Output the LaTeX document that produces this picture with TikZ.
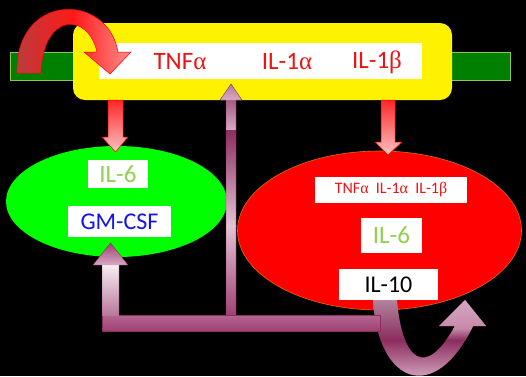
\documentclass[tikz,border=0pt]{standalone}
\usepackage{fontspec}
\setmainfont{Carlito}
\newfontfamily\grk{Liberation Serif}
\usetikzlibrary{shapes.geometric,calc}
\definecolor{barGreen}{RGB}{0,128,0}
\definecolor{barEdge}{RGB}{140,200,80}
\definecolor{lime}{RGB}{0,255,0}
\definecolor{redEll}{RGB}{255,0,0}
\definecolor{redEdge}{RGB}{220,110,0}
\definecolor{txtRed}{RGB}{235,20,20}
\definecolor{txtGreen}{RGB}{146,208,80}
\definecolor{txtBlue}{RGB}{20,20,235}
\definecolor{mauve}{RGB}{160,64,115}
\definecolor{mauveDark}{RGB}{140,45,95}
\definecolor{mauveMid}{RGB}{185,120,155}
\definecolor{mauveLight}{RGB}{228,195,212}
\definecolor{mauveGray}{RGB}{180,140,162}
\definecolor{mauvePink}{RGB}{215,170,195}
\definecolor{pinkLight}{RGB}{255,195,195}
\definecolor{redDark}{RGB}{185,60,60}
\tikzset{
  wbox/.style={fill=white, draw=none, inner sep=0pt, rectangle},
  fz/.style={font=\fontsize{#1}{#1}\selectfont},
  medge/.style={draw=mauveDark, line width=0.4pt},
}
\begin{document}
\begin{tikzpicture}[x=1pt,y=-1pt]
\fill[black] (0,0) rectangle (526,376);
\useasboundingbox (0,0) rectangle (526,376);
% green bar and yellow box
\node[rectangle, fill=barGreen, draw=barEdge, line width=0.8pt, minimum width=500pt, minimum height=28pt, inner sep=0pt] (bar) at (260,66) {};
\node[rectangle, fill=yellow, rounded corners=12pt, minimum width=379pt, minimum height=77pt, inner sep=0pt] (ybox) at (262.5,61.5) {};
\node[wbox, minimum width=323pt, minimum height=36pt] (wtop) at (260.5,61) {};
\node[fz=25, text=txtRed] (tnf) at (180,62) {TNF{\grk α}};
\node[fz=25, text=txtRed] (ila) at (287,62) {IL-1{\grk α}};
\node[fz=25, text=txtRed] (ilb) at (377,62) {IL-1{\grk β}};
% ellipses
\node[ellipse, fill=lime, minimum width=221pt, minimum height=111pt, inner sep=0pt] (gell) at (116.5,201.5) {};
\node[ellipse, fill=redEll, draw=redEdge, line width=0.6pt, minimum width=284pt, minimum height=159pt, inner sep=0pt] (rell) at (379.5,230.5) {};
% boxes in green ellipse
\node[wbox, minimum width=60pt, minimum height=28pt, fz=25, text=txtGreen] (g6) at (118,174) {IL-6};
\node[wbox, minimum width=103pt, minimum height=31pt, fz=24, text=txtBlue] (gm) at (119.5,221.5) {GM-CSF};
% boxes in red ellipse
\node[wbox, minimum width=152pt, minimum height=26pt, fz=16, text=txtRed] (rcyt) at (391,190) {TNF{\grk α}\ \ IL-1{\grk α}\ \ IL-1{\grk β}};
\node[wbox, minimum width=61pt, minimum height=35pt, fz=25, text=txtGreen] (r6) at (391.5,235.5) {IL-6};
% bottom right curved arrow (behind IL-10 box)
\begin{scope}
\clip (373,300) .. controls (378,385) and (435,405) .. (473,326) -- (486,326) -- (465,300) -- (439,326) -- (455,326) .. controls (425,380) and (402,360) .. (397,300) -- cycle;
\shade[top color=mauveGray, bottom color=mauveDark] (360,296) -- (500,296) -- (500,340) -- (360,340) -- cycle;
\shade[top color=mauveDark, bottom color=mauvePink] (360,340) -- (500,340) -- (500,380) -- (360,380) -- cycle;
\shade[top color=mauvePink, bottom color=mauvePink!70!mauve] (430,296) -- (500,296) -- (500,328) -- (430,328) -- cycle;
\shade[top color=mauvePink!70!mauve, bottom color=mauveDark] (440,328) -- (500,328) -- (500,340) -- (440,340) -- cycle;
\end{scope}
\node[wbox, minimum width=99pt, minimum height=31pt, fz=24, text=black] (r10) at (388.5,284.5) {IL-10};
% pink down arrows
\shadedraw[draw=red, line width=0.5pt, top color=red!85, bottom color=pinkLight] (108,100) -- (123,100) -- (123,137) -- (128,137) -- (115.5,152) -- (102,137) -- (108,137) -- cycle;
\shadedraw[draw=red, line width=0.5pt, top color=red!85, bottom color=pinkLight] (381,100) -- (395,100) -- (395,142) -- (402,142) -- (388,155) -- (375,142) -- (381,142) -- cycle;
% purple connector system: vertical arrow
\shade[top color=mauveDark!80!white, bottom color=mauvePink] (226,98) -- (236,98) -- (236,130) -- (226,130) -- cycle;
\shade[top color=mauveDark, bottom color=mauveLight] (226,130) -- (236,130) -- (236,226) -- (226,226) -- cycle;
\shade[top color=mauveLight, bottom color=mauve] (226,225) -- (236,225) -- (236,316) -- (226,316) -- cycle;
\shade[top color=mauveMid, bottom color=mauvePink] (220,100) -- (231,84) -- (242,100) -- cycle;
\draw[medge] (226,316) -- (226,100) -- (220,100) -- (231,84) -- (242,100) -- (236,100) -- (236,316);
% horizontal bar
\shadedraw[medge, top color=mauve!80!white, bottom color=mauve] (102,315) -- (380,315) -- (380,331) -- (102,331) -- cycle;
% left up arrow
\shade[top color=mauveLight!30!white, bottom color=mauveMid] (102,265) -- (119,265) -- (119,315) -- (102,315) -- cycle;
\shade[top color=mauve, bottom color=mauvePink] (93,265) -- (110.5,243) -- (128,265) -- cycle;
\draw[medge] (102,315) -- (102,265) -- (93,265) -- (110.5,243) -- (128,265) -- (119,265) -- (119,315);
% top left curved arrow
\shadedraw[draw=red, line width=0.5pt, left color=redDark, right color=red!45, middle color=red!90] (17,73) .. controls (15,-8) and (108,-8) .. (118,52) -- (131,52) -- (110,74) -- (84,52) -- (97,52) .. controls (88,12) and (43,12) .. (41,73) -- cycle;
\end{tikzpicture}
\end{document}
